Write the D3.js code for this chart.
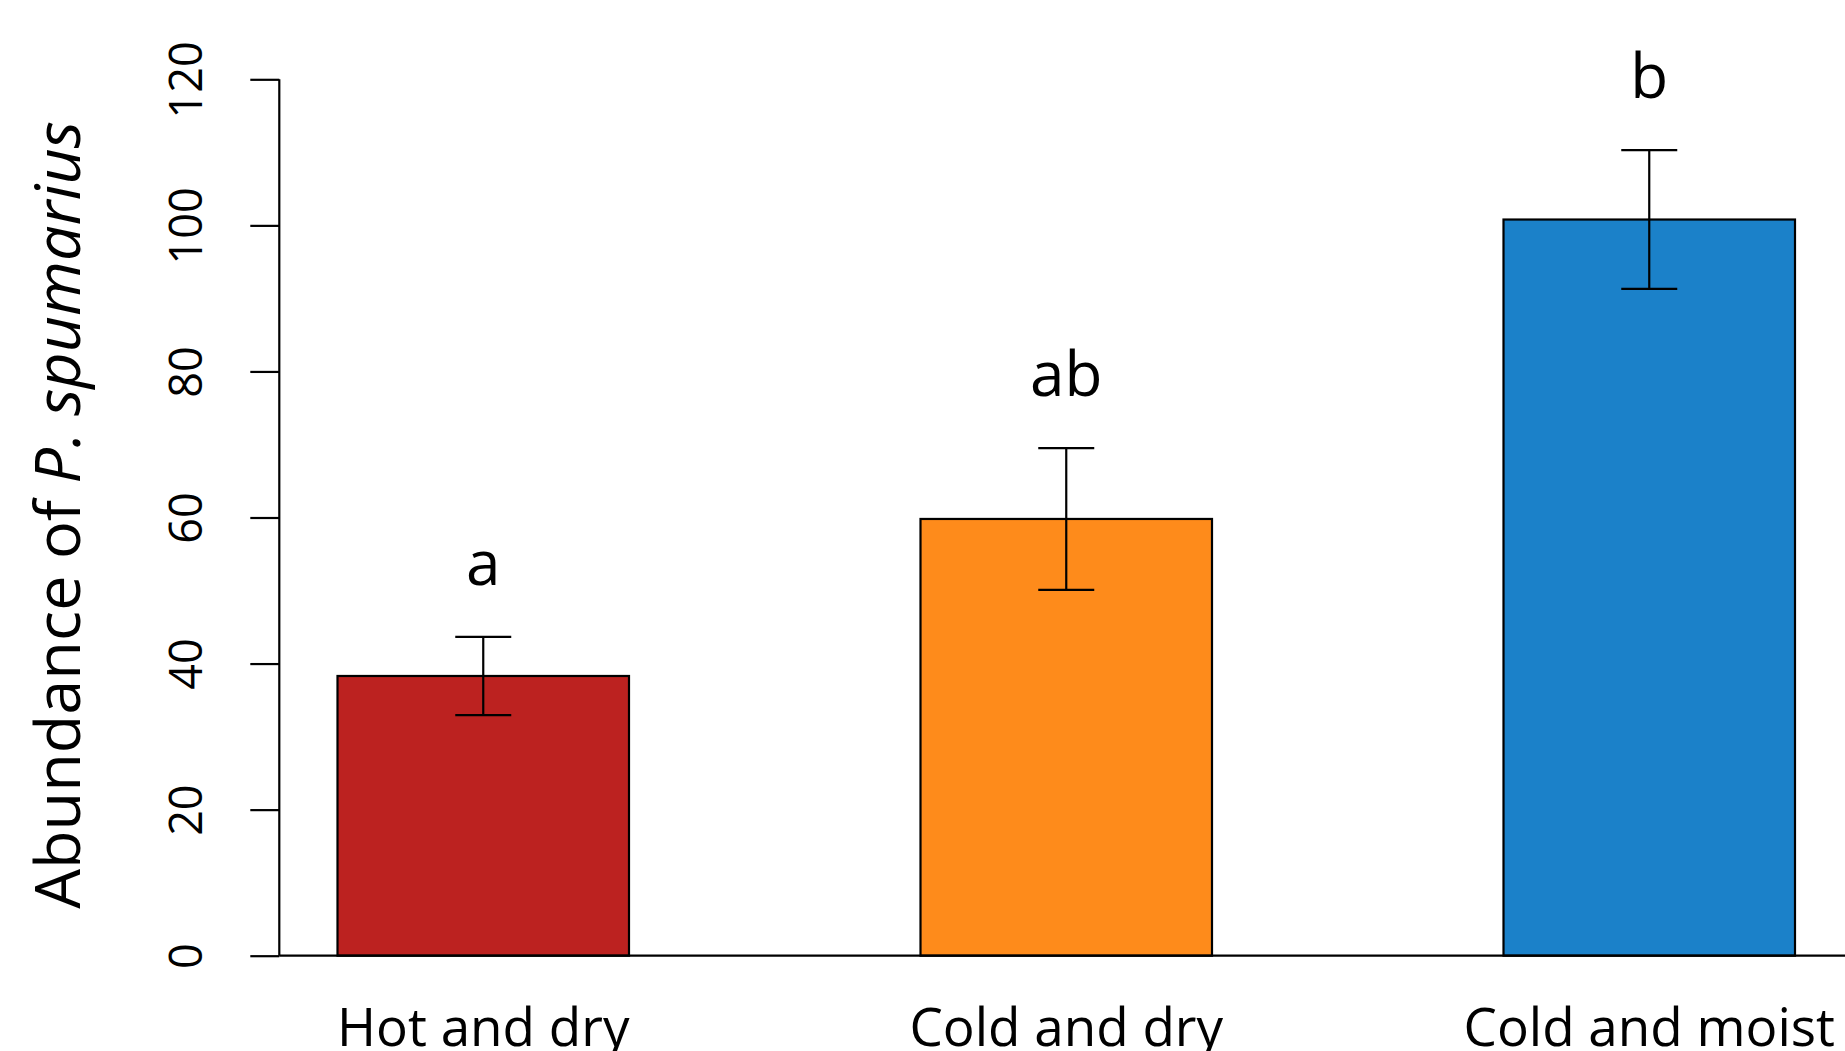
<!DOCTYPE html>
<html>
<head>
<meta charset="utf-8">
<script src="https://cdn.jsdelivr.net/npm/d3@7"></script>
<style>
  html, body { margin: 0; padding: 0; background: #fff; }
  svg { display: block; }
  text { font-family: "Open Sans", "Noto Sans", sans-serif; fill: #000; }
</style>
</head>
<body>
<script>
// ---- data ----
const categories = ["Hot and dry", "Cold and dry", "Cold and moist"];
const means = [38.3, 59.8, 100.8];
const errors = [5.35, 9.7, 9.5];
const letters = ["a", "ab", "b"];
const colors = ["#BC2220", "#FE8B1B", "#1B81C9"];
const yTicks = [0, 20, 40, 60, 80, 100, 120];
const yTitlePlain = "Abundance of ";
const yTitleItalic = "P. spumarius";

// ---- layout ----
const W = 1845, H = 1051;
const svg = d3.select("body").append("svg").attr("width", W).attr("height", H);

const y = d3.scaleLinear().domain([0, 120]).range([955.7, 79.3]);
const x = d3.scaleBand().domain(categories).range([337.5, 1795]).paddingInner(0.5).paddingOuter(0);
const axisX = 279.3;

// bars
svg.append("g").selectAll("rect").data(categories).join("rect")
  .attr("x", d => x(d))
  .attr("y", (d, i) => y(means[i]))
  .attr("width", x.bandwidth())
  .attr("height", (d, i) => y(0) - y(means[i]))
  .attr("fill", (d, i) => colors[i])
  .attr("stroke", "#000")
  .attr("stroke-width", 2.2);

// baseline
svg.append("line")
  .attr("x1", axisX).attr("x2", W)
  .attr("y1", y(0)).attr("y2", y(0))
  .attr("stroke", "#000").attr("stroke-width", 2.2);

// y axis
const yAxis = d3.axisLeft(y).tickValues(yTicks).tickSize(29).tickPadding(0).tickFormat(d3.format("d"));
const gy = svg.append("g").attr("transform", `translate(${axisX},0)`).call(yAxis);
gy.select(".domain").remove();
gy.append("line").attr("x1", 0).attr("x2", 0).attr("y1", y(120)).attr("y2", y(0))
  .attr("stroke", "#000").attr("stroke-width", 2.2);
gy.selectAll(".tick line").attr("stroke", "#000").attr("stroke-width", 2.2);
gy.selectAll(".tick text")
  .attr("x", null).attr("dy", null)
  .attr("transform", `translate(${202 - axisX},0) rotate(-90)`)
  .attr("text-anchor", "middle")
  .style("font-family", "'Open Sans', sans-serif")
  .style("font-size", "45px")
  .attr("fill", "#000");

// error bars
const eb = svg.append("g").attr("stroke", "#000").attr("stroke-width", 2.2);
categories.forEach((c, i) => {
  const cx = x(c) + x.bandwidth() / 2;
  const top = y(means[i] + errors[i]), bot = y(means[i] - errors[i]);
  eb.append("line").attr("x1", cx).attr("x2", cx).attr("y1", top).attr("y2", bot);
  eb.append("line").attr("x1", cx - 28).attr("x2", cx + 28).attr("y1", top).attr("y2", top);
  eb.append("line").attr("x1", cx - 28).attr("x2", cx + 28).attr("y1", bot).attr("y2", bot);
});

// significance letters
svg.append("g").selectAll("text").data(categories).join("text")
  .attr("x", d => x(d) + x.bandwidth() / 2)
  .attr("y", (d, i) => y(means[i] + errors[i]) - 52)
  .attr("text-anchor", "middle")
  .style("font-size", "62px")
  .text((d, i) => letters[i]);

// x labels
svg.append("g").selectAll("text").data(categories).join("text")
  .attr("x", d => x(d) + x.bandwidth() / 2)
  .attr("y", 1045.7)
  .attr("text-anchor", "middle")
  .style("font-size", "53px")
  .text(d => d);

// y title
const t = svg.append("text")
  .attr("transform", "translate(80,515) rotate(-90)")
  .attr("text-anchor", "middle")
  .style("font-size", "63px");
t.append("tspan").text(yTitlePlain);
t.append("tspan").style("font-style", "italic").text(yTitleItalic);
</script>
</body>
</html>
